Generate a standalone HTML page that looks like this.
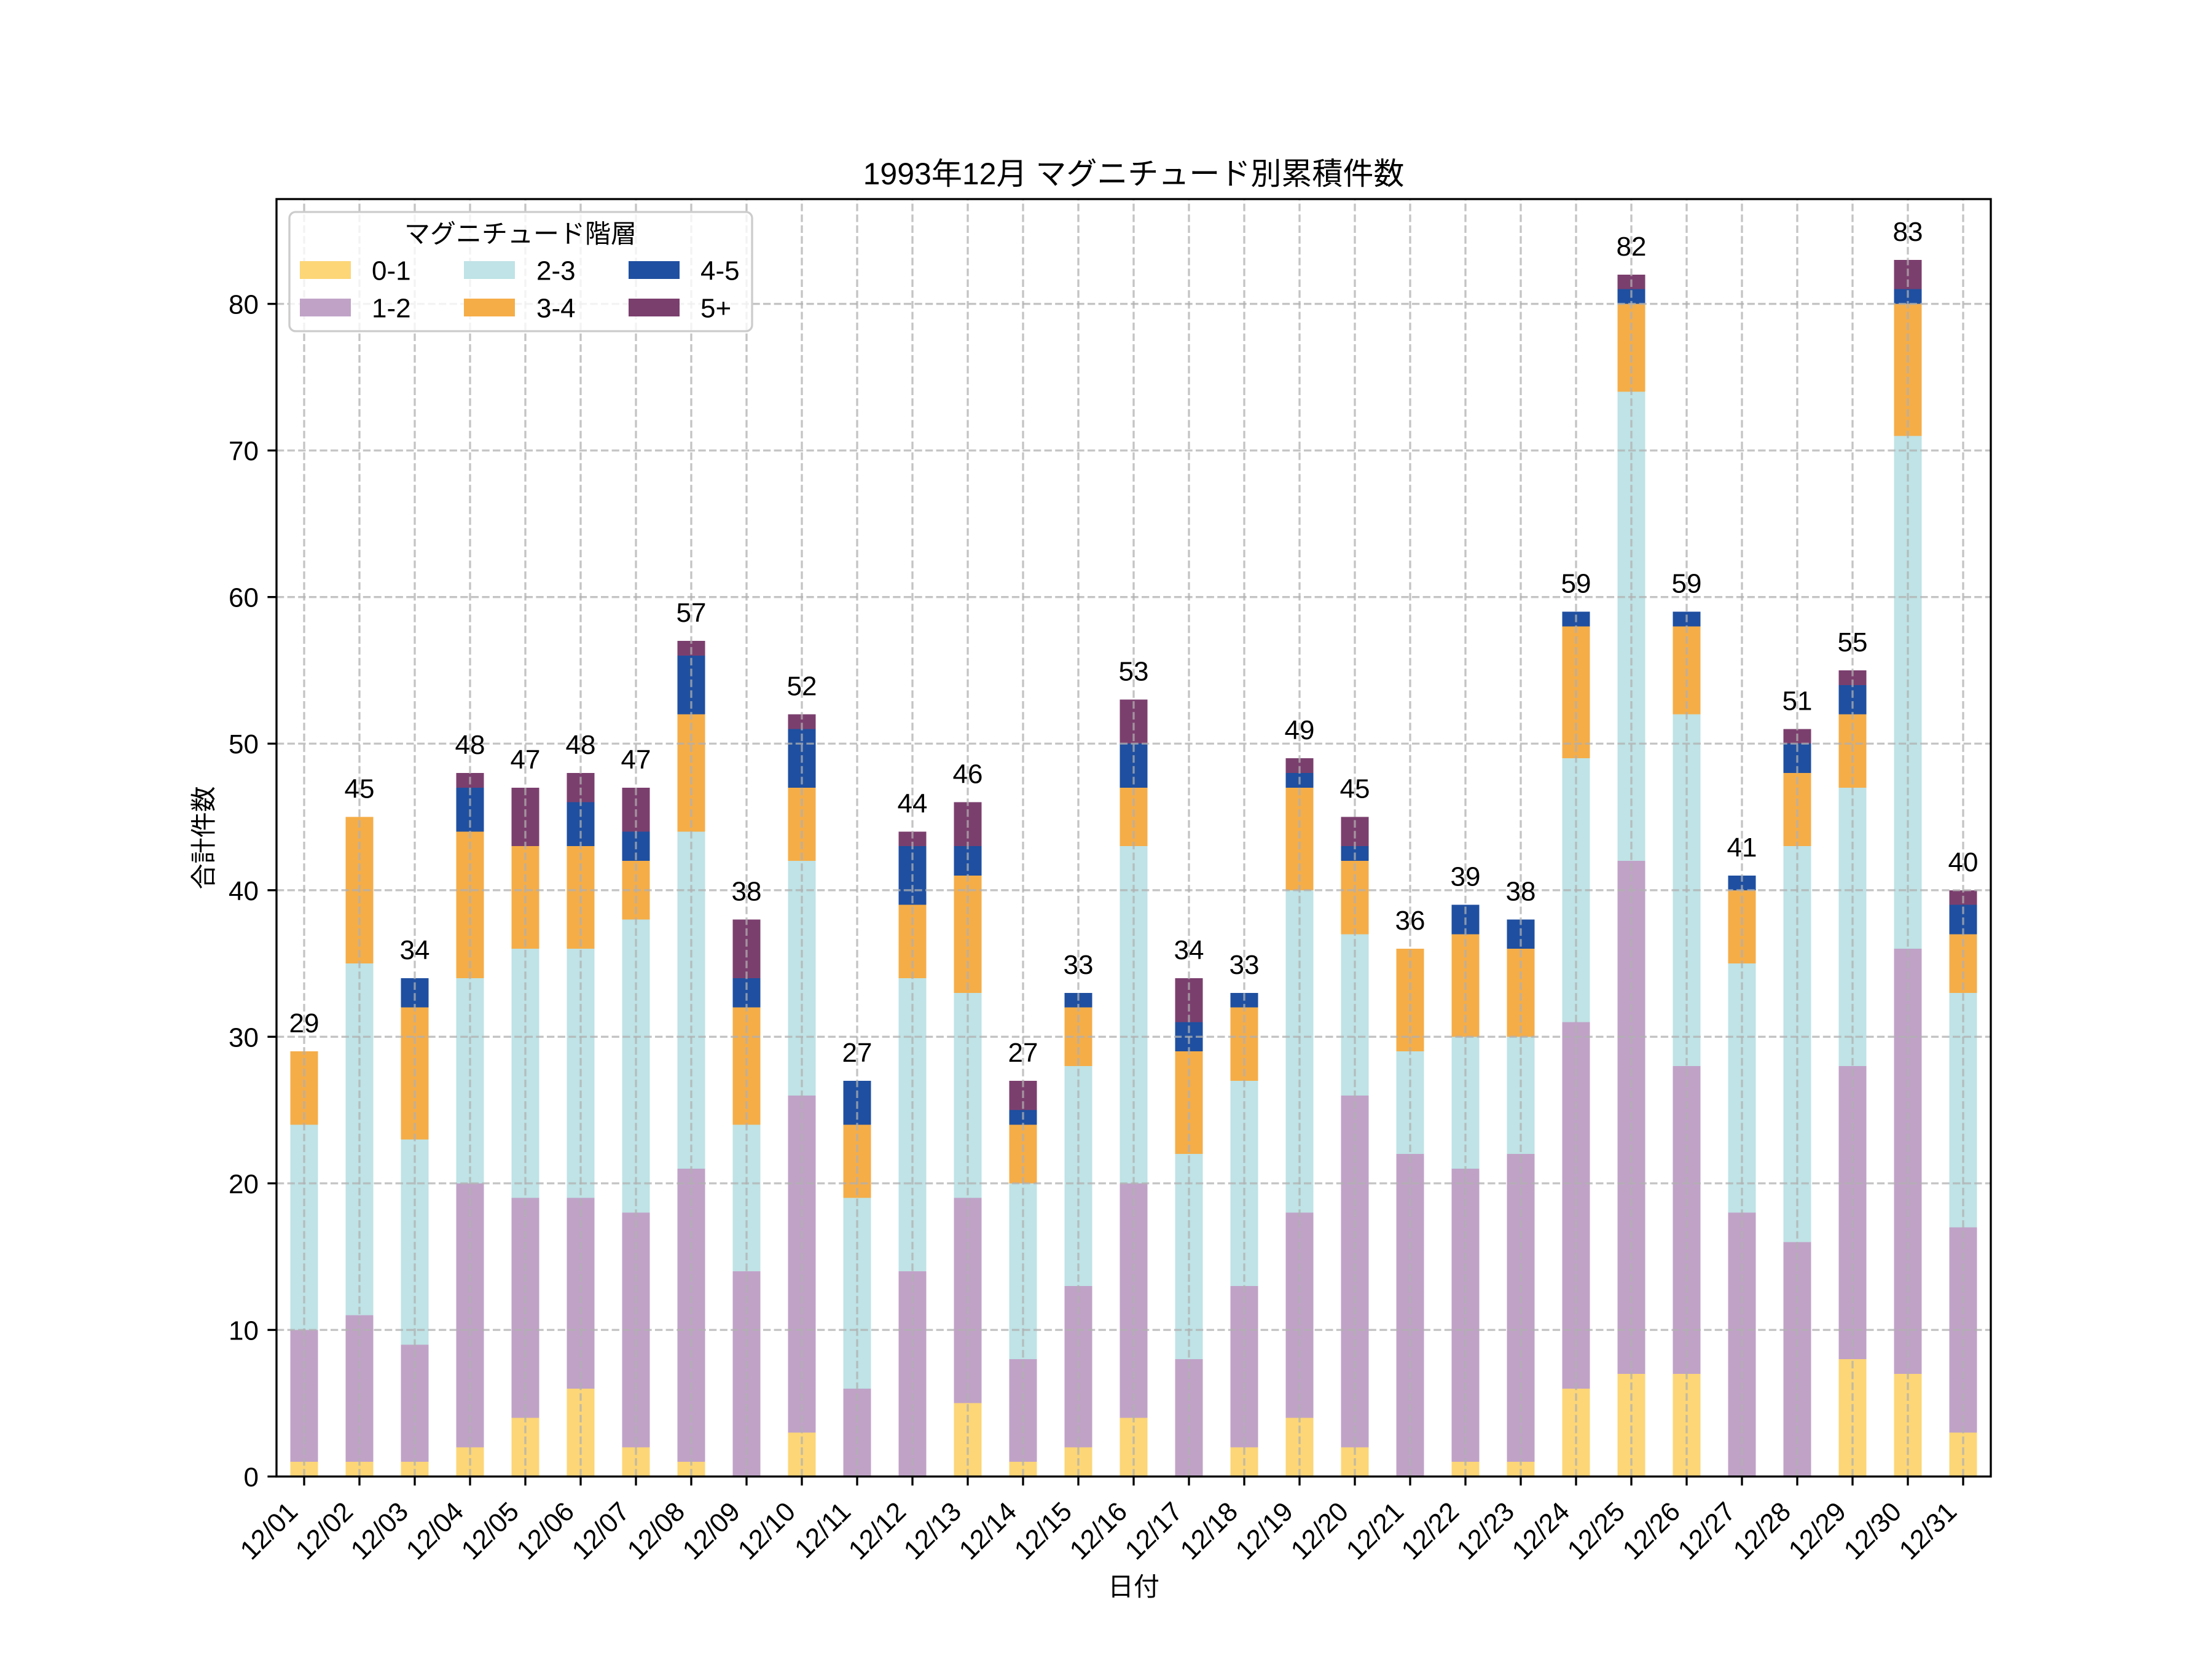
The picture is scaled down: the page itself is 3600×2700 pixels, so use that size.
<!DOCTYPE html>
<html>
<head>
<meta charset="utf-8">
<style>
html,body{margin:0;padding:0;background:#fff;}
svg{display:block;}
text{font-family:"Liberation Sans","Noto Sans CJK JP",sans-serif;fill:#000;}
</style>
</head>
<body>
<svg width="3600" height="2700" viewBox="0 0 3600 2700" xmlns="http://www.w3.org/2000/svg">
<rect x="0" y="0" width="3600" height="2700" fill="#ffffff"/>

<!-- bars (data coords) -->
<g transform="translate(495,2403) scale(90,-23.8554)" shape-rendering="crispEdges">
<g fill="#FCD677">
<rect x="-0.25" y="0" width="0.5" height="1"/>
<rect x="0.75" y="0" width="0.5" height="1"/>
<rect x="1.75" y="0" width="0.5" height="1"/>
<rect x="2.75" y="0" width="0.5" height="2"/>
<rect x="3.75" y="0" width="0.5" height="4"/>
<rect x="4.75" y="0" width="0.5" height="6"/>
<rect x="5.75" y="0" width="0.5" height="2"/>
<rect x="6.75" y="0" width="0.5" height="1"/>
<rect x="8.75" y="0" width="0.5" height="3"/>
<rect x="11.75" y="0" width="0.5" height="5"/>
<rect x="12.75" y="0" width="0.5" height="1"/>
<rect x="13.75" y="0" width="0.5" height="2"/>
<rect x="14.75" y="0" width="0.5" height="4"/>
<rect x="16.75" y="0" width="0.5" height="2"/>
<rect x="17.75" y="0" width="0.5" height="4"/>
<rect x="18.75" y="0" width="0.5" height="2"/>
<rect x="20.75" y="0" width="0.5" height="1"/>
<rect x="21.75" y="0" width="0.5" height="1"/>
<rect x="22.75" y="0" width="0.5" height="6"/>
<rect x="23.75" y="0" width="0.5" height="7"/>
<rect x="24.75" y="0" width="0.5" height="7"/>
<rect x="27.75" y="0" width="0.5" height="8"/>
<rect x="28.75" y="0" width="0.5" height="7"/>
<rect x="29.75" y="0" width="0.5" height="3"/>
</g>
<g fill="#C0A2C7">
<rect x="-0.25" y="1" width="0.5" height="9"/>
<rect x="0.75" y="1" width="0.5" height="10"/>
<rect x="1.75" y="1" width="0.5" height="8"/>
<rect x="2.75" y="2" width="0.5" height="18"/>
<rect x="3.75" y="4" width="0.5" height="15"/>
<rect x="4.75" y="6" width="0.5" height="13"/>
<rect x="5.75" y="2" width="0.5" height="16"/>
<rect x="6.75" y="1" width="0.5" height="20"/>
<rect x="7.75" y="0" width="0.5" height="14"/>
<rect x="8.75" y="3" width="0.5" height="23"/>
<rect x="9.75" y="0" width="0.5" height="6"/>
<rect x="10.75" y="0" width="0.5" height="14"/>
<rect x="11.75" y="5" width="0.5" height="14"/>
<rect x="12.75" y="1" width="0.5" height="7"/>
<rect x="13.75" y="2" width="0.5" height="11"/>
<rect x="14.75" y="4" width="0.5" height="16"/>
<rect x="15.75" y="0" width="0.5" height="8"/>
<rect x="16.75" y="2" width="0.5" height="11"/>
<rect x="17.75" y="4" width="0.5" height="14"/>
<rect x="18.75" y="2" width="0.5" height="24"/>
<rect x="19.75" y="0" width="0.5" height="22"/>
<rect x="20.75" y="1" width="0.5" height="20"/>
<rect x="21.75" y="1" width="0.5" height="21"/>
<rect x="22.75" y="6" width="0.5" height="25"/>
<rect x="23.75" y="7" width="0.5" height="35"/>
<rect x="24.75" y="7" width="0.5" height="21"/>
<rect x="25.75" y="0" width="0.5" height="18"/>
<rect x="26.75" y="0" width="0.5" height="16"/>
<rect x="27.75" y="8" width="0.5" height="20"/>
<rect x="28.75" y="7" width="0.5" height="29"/>
<rect x="29.75" y="3" width="0.5" height="14"/>
</g>
<g fill="#BFE3E6">
<rect x="-0.25" y="10" width="0.5" height="14"/>
<rect x="0.75" y="11" width="0.5" height="24"/>
<rect x="1.75" y="9" width="0.5" height="14"/>
<rect x="2.75" y="20" width="0.5" height="14"/>
<rect x="3.75" y="19" width="0.5" height="17"/>
<rect x="4.75" y="19" width="0.5" height="17"/>
<rect x="5.75" y="18" width="0.5" height="20"/>
<rect x="6.75" y="21" width="0.5" height="23"/>
<rect x="7.75" y="14" width="0.5" height="10"/>
<rect x="8.75" y="26" width="0.5" height="16"/>
<rect x="9.75" y="6" width="0.5" height="13"/>
<rect x="10.75" y="14" width="0.5" height="20"/>
<rect x="11.75" y="19" width="0.5" height="14"/>
<rect x="12.75" y="8" width="0.5" height="12"/>
<rect x="13.75" y="13" width="0.5" height="15"/>
<rect x="14.75" y="20" width="0.5" height="23"/>
<rect x="15.75" y="8" width="0.5" height="14"/>
<rect x="16.75" y="13" width="0.5" height="14"/>
<rect x="17.75" y="18" width="0.5" height="22"/>
<rect x="18.75" y="26" width="0.5" height="11"/>
<rect x="19.75" y="22" width="0.5" height="7"/>
<rect x="20.75" y="21" width="0.5" height="9"/>
<rect x="21.75" y="22" width="0.5" height="8"/>
<rect x="22.75" y="31" width="0.5" height="18"/>
<rect x="23.75" y="42" width="0.5" height="32"/>
<rect x="24.75" y="28" width="0.5" height="24"/>
<rect x="25.75" y="18" width="0.5" height="17"/>
<rect x="26.75" y="16" width="0.5" height="27"/>
<rect x="27.75" y="28" width="0.5" height="19"/>
<rect x="28.75" y="36" width="0.5" height="35"/>
<rect x="29.75" y="17" width="0.5" height="16"/>
</g>
<g fill="#F5AD48">
<rect x="-0.25" y="24" width="0.5" height="5"/>
<rect x="0.75" y="35" width="0.5" height="10"/>
<rect x="1.75" y="23" width="0.5" height="9"/>
<rect x="2.75" y="34" width="0.5" height="10"/>
<rect x="3.75" y="36" width="0.5" height="7"/>
<rect x="4.75" y="36" width="0.5" height="7"/>
<rect x="5.75" y="38" width="0.5" height="4"/>
<rect x="6.75" y="44" width="0.5" height="8"/>
<rect x="7.75" y="24" width="0.5" height="8"/>
<rect x="8.75" y="42" width="0.5" height="5"/>
<rect x="9.75" y="19" width="0.5" height="5"/>
<rect x="10.75" y="34" width="0.5" height="5"/>
<rect x="11.75" y="33" width="0.5" height="8"/>
<rect x="12.75" y="20" width="0.5" height="4"/>
<rect x="13.75" y="28" width="0.5" height="4"/>
<rect x="14.75" y="43" width="0.5" height="4"/>
<rect x="15.75" y="22" width="0.5" height="7"/>
<rect x="16.75" y="27" width="0.5" height="5"/>
<rect x="17.75" y="40" width="0.5" height="7"/>
<rect x="18.75" y="37" width="0.5" height="5"/>
<rect x="19.75" y="29" width="0.5" height="7"/>
<rect x="20.75" y="30" width="0.5" height="7"/>
<rect x="21.75" y="30" width="0.5" height="6"/>
<rect x="22.75" y="49" width="0.5" height="9"/>
<rect x="23.75" y="74" width="0.5" height="6"/>
<rect x="24.75" y="52" width="0.5" height="6"/>
<rect x="25.75" y="35" width="0.5" height="5"/>
<rect x="26.75" y="43" width="0.5" height="5"/>
<rect x="27.75" y="47" width="0.5" height="5"/>
<rect x="28.75" y="71" width="0.5" height="9"/>
<rect x="29.75" y="33" width="0.5" height="4"/>
</g>
<g fill="#1F4FA0">
<rect x="1.75" y="32" width="0.5" height="2"/>
<rect x="2.75" y="44" width="0.5" height="3"/>
<rect x="4.75" y="43" width="0.5" height="3"/>
<rect x="5.75" y="42" width="0.5" height="2"/>
<rect x="6.75" y="52" width="0.5" height="4"/>
<rect x="7.75" y="32" width="0.5" height="2"/>
<rect x="8.75" y="47" width="0.5" height="4"/>
<rect x="9.75" y="24" width="0.5" height="3"/>
<rect x="10.75" y="39" width="0.5" height="4"/>
<rect x="11.75" y="41" width="0.5" height="2"/>
<rect x="12.75" y="24" width="0.5" height="1"/>
<rect x="13.75" y="32" width="0.5" height="1"/>
<rect x="14.75" y="47" width="0.5" height="3"/>
<rect x="15.75" y="29" width="0.5" height="2"/>
<rect x="16.75" y="32" width="0.5" height="1"/>
<rect x="17.75" y="47" width="0.5" height="1"/>
<rect x="18.75" y="42" width="0.5" height="1"/>
<rect x="20.75" y="37" width="0.5" height="2"/>
<rect x="21.75" y="36" width="0.5" height="2"/>
<rect x="22.75" y="58" width="0.5" height="1"/>
<rect x="23.75" y="80" width="0.5" height="1"/>
<rect x="24.75" y="58" width="0.5" height="1"/>
<rect x="25.75" y="40" width="0.5" height="1"/>
<rect x="26.75" y="48" width="0.5" height="2"/>
<rect x="27.75" y="52" width="0.5" height="2"/>
<rect x="28.75" y="80" width="0.5" height="1"/>
<rect x="29.75" y="37" width="0.5" height="2"/>
</g>
<g fill="#7B3F6E">
<rect x="2.75" y="47" width="0.5" height="1"/>
<rect x="3.75" y="43" width="0.5" height="4"/>
<rect x="4.75" y="46" width="0.5" height="2"/>
<rect x="5.75" y="44" width="0.5" height="3"/>
<rect x="6.75" y="56" width="0.5" height="1"/>
<rect x="7.75" y="34" width="0.5" height="4"/>
<rect x="8.75" y="51" width="0.5" height="1"/>
<rect x="10.75" y="43" width="0.5" height="1"/>
<rect x="11.75" y="43" width="0.5" height="3"/>
<rect x="12.75" y="25" width="0.5" height="2"/>
<rect x="14.75" y="50" width="0.5" height="3"/>
<rect x="15.75" y="31" width="0.5" height="3"/>
<rect x="17.75" y="48" width="0.5" height="1"/>
<rect x="18.75" y="43" width="0.5" height="2"/>
<rect x="23.75" y="81" width="0.5" height="1"/>
<rect x="26.75" y="50" width="0.5" height="1"/>
<rect x="27.75" y="54" width="0.5" height="1"/>
<rect x="28.75" y="81" width="0.5" height="2"/>
<rect x="29.75" y="39" width="0.5" height="1"/>
</g>
</g>

<!-- grid (drawn over bars) -->
<g fill="none" stroke="#b0b0b0" stroke-opacity="0.75" stroke-width="3.33" stroke-dasharray="12.3 5.3">
<path d="M495 2403V324M585 2403V324M675 2403V324M765 2403V324M855 2403V324M945 2403V324M1035 2403V324M1125 2403V324M1215 2403V324M1305 2403V324M1395 2403V324M1485 2403V324M1575 2403V324M1665 2403V324M1755 2403V324M1845 2403V324M1935 2403V324M2025 2403V324M2115 2403V324M2205 2403V324M2295 2403V324M2385 2403V324M2475 2403V324M2565 2403V324M2655 2403V324M2745 2403V324M2835 2403V324M2925 2403V324M3015 2403V324M3105 2403V324M3195 2403V324"/>
<path d="M450 2164.45H3240M450 1925.89H3240M450 1687.34H3240M450 1448.78H3240M450 1210.23H3240M450 971.68H3240M450 733.12H3240M450 494.57H3240"/>
</g>

<!-- spines -->
<rect x="450" y="324" width="2790" height="2079" fill="none" stroke="#000" stroke-width="3.33"/>

<!-- y ticks -->
<path stroke="#000" stroke-width="3.33" fill="none" d="M435.4 2403H450M435.4 2164.45H450M435.4 1925.89H450M435.4 1687.34H450M435.4 1448.78H450M435.4 1210.23H450M435.4 971.68H450M435.4 733.12H450M435.4 494.57H450"/>
<g font-size="44" text-anchor="end">
<text x="421" y="2419">0</text>
<text x="421" y="2180.5">10</text>
<text x="421" y="1942">20</text>
<text x="421" y="1703.5">30</text>
<text x="421" y="1465">40</text>
<text x="421" y="1226">50</text>
<text x="421" y="987.5">60</text>
<text x="421" y="749">70</text>
<text x="421" y="510.5">80</text>
</g>

<!-- x ticks -->
<path stroke="#000" stroke-width="3.33" fill="none" d="M495 2403V2417.6M585 2403V2417.6M675 2403V2417.6M765 2403V2417.6M855 2403V2417.6M945 2403V2417.6M1035 2403V2417.6M1125 2403V2417.6M1215 2403V2417.6M1305 2403V2417.6M1395 2403V2417.6M1485 2403V2417.6M1575 2403V2417.6M1665 2403V2417.6M1755 2403V2417.6M1845 2403V2417.6M1935 2403V2417.6M2025 2403V2417.6M2115 2403V2417.6M2205 2403V2417.6M2295 2403V2417.6M2385 2403V2417.6M2475 2403V2417.6M2565 2403V2417.6M2655 2403V2417.6M2745 2403V2417.6M2835 2403V2417.6M2925 2403V2417.6M3015 2403V2417.6M3105 2403V2417.6M3195 2403V2417.6"/>
<g font-size="44" text-anchor="end">
<text transform="translate(487,2463) rotate(-45)">12/01</text>
<text transform="translate(577,2463) rotate(-45)">12/02</text>
<text transform="translate(667,2463) rotate(-45)">12/03</text>
<text transform="translate(757,2463) rotate(-45)">12/04</text>
<text transform="translate(847,2463) rotate(-45)">12/05</text>
<text transform="translate(937,2463) rotate(-45)">12/06</text>
<text transform="translate(1027,2463) rotate(-45)">12/07</text>
<text transform="translate(1117,2463) rotate(-45)">12/08</text>
<text transform="translate(1207,2463) rotate(-45)">12/09</text>
<text transform="translate(1297,2463) rotate(-45)">12/10</text>
<text transform="translate(1387,2463) rotate(-45)">12/11</text>
<text transform="translate(1477,2463) rotate(-45)">12/12</text>
<text transform="translate(1567,2463) rotate(-45)">12/13</text>
<text transform="translate(1657,2463) rotate(-45)">12/14</text>
<text transform="translate(1747,2463) rotate(-45)">12/15</text>
<text transform="translate(1837,2463) rotate(-45)">12/16</text>
<text transform="translate(1927,2463) rotate(-45)">12/17</text>
<text transform="translate(2017,2463) rotate(-45)">12/18</text>
<text transform="translate(2107,2463) rotate(-45)">12/19</text>
<text transform="translate(2197,2463) rotate(-45)">12/20</text>
<text transform="translate(2287,2463) rotate(-45)">12/21</text>
<text transform="translate(2377,2463) rotate(-45)">12/22</text>
<text transform="translate(2467,2463) rotate(-45)">12/23</text>
<text transform="translate(2557,2463) rotate(-45)">12/24</text>
<text transform="translate(2647,2463) rotate(-45)">12/25</text>
<text transform="translate(2737,2463) rotate(-45)">12/26</text>
<text transform="translate(2827,2463) rotate(-45)">12/27</text>
<text transform="translate(2917,2463) rotate(-45)">12/28</text>
<text transform="translate(3007,2463) rotate(-45)">12/29</text>
<text transform="translate(3097,2463) rotate(-45)">12/30</text>
<text transform="translate(3187,2463) rotate(-45)">12/31</text>
</g>

<!-- bar total annotations -->
<g font-size="44" text-anchor="middle">
<text x="495" y="1680">29</text>
<text x="585" y="1298.5">45</text>
<text x="675" y="1561">34</text>
<text x="765" y="1227">48</text>
<text x="855" y="1251">47</text>
<text x="945" y="1227">48</text>
<text x="1035" y="1251">47</text>
<text x="1125" y="1012">57</text>
<text x="1215" y="1465.5">38</text>
<text x="1305" y="1131.5">52</text>
<text x="1395" y="1728">27</text>
<text x="1485" y="1322.4">44</text>
<text x="1575" y="1274.7">46</text>
<text x="1665" y="1728">27</text>
<text x="1755" y="1584.8">33</text>
<text x="1845" y="1107.7">53</text>
<text x="1935" y="1561">34</text>
<text x="2025" y="1584.8">33</text>
<text x="2115" y="1203.1">49</text>
<text x="2205" y="1298.5">45</text>
<text x="2295" y="1513.2">36</text>
<text x="2385" y="1441.6">39</text>
<text x="2475" y="1465.5">38</text>
<text x="2565" y="964.5">59</text>
<text x="2655" y="415.9">82</text>
<text x="2745" y="964.5">59</text>
<text x="2835" y="1393.9">41</text>
<text x="2925" y="1155.4">51</text>
<text x="3015" y="1060">55</text>
<text x="3105" y="392">83</text>
<text x="3195" y="1417.8">40</text>
</g>

<!-- axis labels and title -->
<text x="1845" y="2597" font-size="42" text-anchor="middle">日付</text>
<text transform="translate(346,1363.5) rotate(-90)" font-size="42" text-anchor="middle">合計件数</text>
<text x="1845" y="300" font-size="50" text-anchor="middle">1993年12月 マグニチュード別累積件数</text>

<!-- legend -->
<rect x="471" y="345" width="753" height="194" rx="10" ry="10" fill="#ffffff" fill-opacity="0.8" stroke="#cccccc" stroke-width="3.33"/>
<text x="847" y="395" font-size="42" text-anchor="middle">マグニチュード階層</text>
<rect x="488" y="425" width="83" height="29" fill="#FCD677"/>
<rect x="488" y="486" width="83" height="29" fill="#C0A2C7"/>
<rect x="755" y="425" width="83" height="29" fill="#BFE3E6"/>
<rect x="755" y="486" width="83" height="29" fill="#F5AD48"/>
<rect x="1023" y="425" width="83" height="29" fill="#1F4FA0"/>
<rect x="1023" y="486" width="83" height="29" fill="#7B3F6E"/>
<g font-size="44">
<text x="605" y="455.5">0-1</text>
<text x="605" y="516.5">1-2</text>
<text x="873" y="455.5">2-3</text>
<text x="873" y="516.5">3-4</text>
<text x="1140" y="455.5">4-5</text>
<text x="1140" y="516.5">5+</text>
</g>
</svg>
</body>
</html>
